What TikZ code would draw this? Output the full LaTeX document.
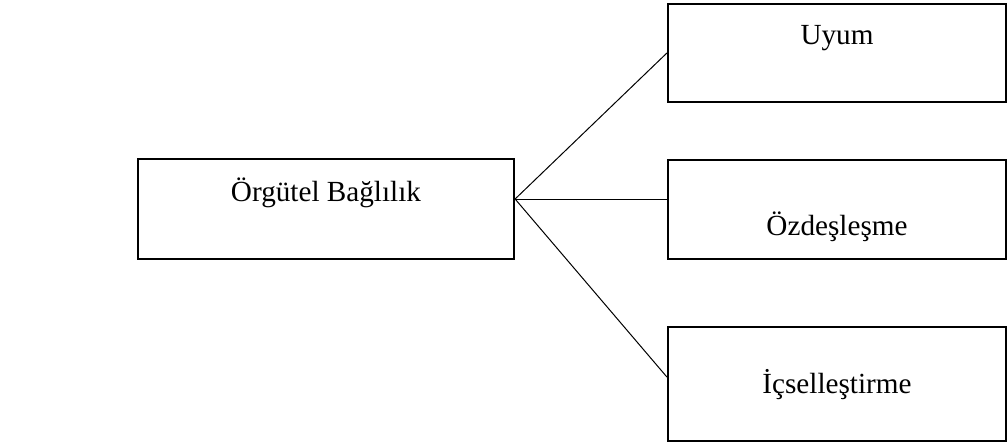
\documentclass[tikz,border=0pt]{standalone}
\usepackage{fontspec}
\setmainfont{Liberation Serif}
\usepackage{tikz}

\begin{document}
\begin{tikzpicture}[x=0.5pt, y=-0.5pt,
		cbox/.style={draw, line width=1.1pt, inner sep=0pt},
		ctext/.style={anchor=base, inner sep=0pt, font=\fontsize{14.6}{17}\selectfont},
		link/.style={line width=0.5pt}]
	% Fix the size of the picture
	\useasboundingbox (0,0) rectangle (1008,447);

	% Draw the boxes
	\node[cbox, minimum width=188pt, minimum height=50pt] (bag) at (326,209) {};
	\node[cbox, minimum width=169pt, minimum height=49pt] (uyum) at (837,53) {};
	\node[cbox, minimum width=169pt, minimum height=49.5pt] (ozd) at (837,209.5) {};
	\node[cbox, minimum width=169pt, minimum height=57pt] (ics) at (837,384) {};

	% Texts of the boxes
	\node[ctext] (tbag) at ([yshift=-22pt]bag.north) {Örgütel Bağlılık};
	\node[ctext] (tuyum) at ([yshift=-21pt]uyum.north) {Uyum};
	\node[ctext] (tozd) at ([yshift=-38.5pt]ozd.north) {Özdeşleşme};
	\node[ctext] (tics) at ([yshift=-34pt]ics.north) {İçselleştirme};

	% Connect the boxes
	\coordinate (bagout) at ([yshift=5pt]bag.east);
	\coordinate (ozdin) at (bagout -| ozd.west);
	\coordinate (icsin) at ([yshift=3.5pt]ics.west);
	\draw[link] (bagout) -- (uyum.west);
	\draw[link] (bagout) -- (ozdin);
	\draw[link] (bagout) -- (icsin);
\end{tikzpicture}
\end{document}
